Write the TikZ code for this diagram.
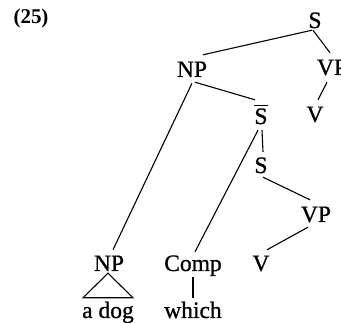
\documentclass[tikz,border=0pt]{standalone}
\usepackage{fontspec}
\setmainfont{Liberation Serif}
\newfontfamily\treefont{Liberation Serif}[BoldFont=Liberation Serif, BoldFeatures={FakeBold=0.9}]
\usetikzlibrary{calc}
\begin{document}
\begin{tikzpicture}[x=1pt,y=-1pt,
  lbl/.style={font=\treefont\bfseries\fontsize{23.5}{28}\selectfont, inner sep=0pt, text height=15pt, text depth=0pt, anchor=base},
  word/.style={font=\treefont\bfseries\fontsize{23.5}{28}\selectfont, inner sep=0pt, text height=15pt, text depth=5pt, anchor=base},
  num/.style={font=\bfseries\fontsize{21}{25}\selectfont, inner sep=0pt, anchor=base},
  edge/.style={line width=1.1pt}]
\useasboundingbox (0,0) rectangle (341,323);
\node[num] (ex) at (31,24) {(25)};
\node[lbl] (S) at (315,28) {S};
\node[lbl] (NP1) at (192,77) {NP};
\node[lbl] (VP) at (332,75) {VP};
\node[lbl] (V1) at (315,122) {V};
\node[lbl] (SB) at (261,124) {S};
\node[lbl] (S2) at (261,173) {S};
\node[lbl] (VP2) at (316,222) {VP};
\node[lbl] (V2) at (261,271) {V};
\node[lbl] (NP2) at (109,271) {NP};
\node[lbl] (Comp) at (193,271) {Comp};
\node[word] (adog) at (108,318) {a dog};
\node[word] (which) at (193,318) {which};
\draw[edge] ($(SB.north west)+(0,-3)$) -- ($(SB.north east)+(0,-3)$);
\draw[edge] ($(S.south)+(-3,2)$) -- ($(NP1.north)+(11,-7)$);
\draw[edge] ($(S.south)+(-2,2)$) -- ($(VP.north)+(-2,-7)$);
\draw[edge] ($(VP.south)+(-5,7)$) -- ($(V1.north)+(3,-7)$);
\draw[edge] ($(NP1.south)+(3,5)$) -- ($(SB.north)+(-6,-9)$);
\draw[edge] ($(NP1.south)+(0,6)$) -- ($(NP2.north)+(4,-6)$);
\draw[edge] ($(SB.south)+(1,6)$) -- ($(S2.north)+(2,-6)$);
\draw[edge] ($(SB.south)+(-3,6)$) -- ($(Comp.north)+(2,-4)$);
\draw[edge] ($(S2.south)+(2,4)$) -- ($(VP2.north)+(-6,-7)$);
\draw[edge] ($(VP2.south)+(-8,5)$) -- ($(V2.north)+(6,-6)$);
\draw[edge] ($(NP2.south)+(-1,2)$) -- ($(adog.north)+(-25,-5)$) -- ($(adog.north)+(25,-5)$) -- cycle;
\draw[edge] ($(Comp.south)+(0,6)$) -- ($(which.north)+(0,-5)$);
\end{tikzpicture}
\end{document}
